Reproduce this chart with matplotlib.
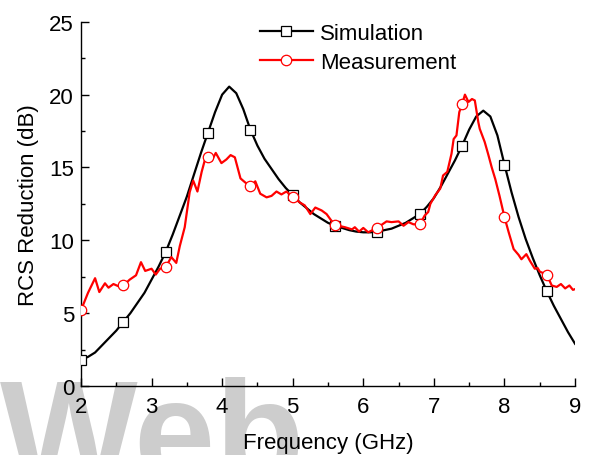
import numpy as np
import matplotlib
matplotlib.use("Agg")
import matplotlib.pyplot as plt
from matplotlib.ticker import MultipleLocator

# -----------------------------
# Data
# -----------------------------
sim_freq = [2.0, 2.1, 2.2, 2.3, 2.4, 2.5, 2.6, 2.7, 2.8, 2.9,
            3.0, 3.1, 3.2, 3.3, 3.4, 3.5, 3.6, 3.7, 3.8, 3.9,
            4.0, 4.1, 4.2, 4.3, 4.4, 4.5, 4.6, 4.7, 4.8, 4.9,
            5.0, 5.1, 5.2, 5.3, 5.4, 5.5, 5.6, 5.7, 5.8, 5.9,
            6.0, 6.1, 6.2, 6.3, 6.4, 6.5, 6.6, 6.7, 6.8, 6.9,
            7.0, 7.1, 7.2, 7.3, 7.4, 7.5, 7.6, 7.7, 7.8, 7.9,
            8.0, 8.1, 8.2, 8.3, 8.4, 8.5, 8.6, 8.7, 8.8, 8.9, 9.0]
sim_rcs = [1.8, 2.0, 2.3, 2.8, 3.3, 3.8, 4.4, 5.0, 5.7, 6.4,
           7.3, 8.2, 9.2, 10.4, 11.7, 13.0, 14.5, 16.0, 17.4, 18.8,
           20.0, 20.55, 20.1, 19.0, 17.6, 16.5, 15.6, 14.9, 14.2, 13.6,
           13.1, 12.6, 12.2, 11.8, 11.5, 11.2, 11.0, 10.85, 10.7, 10.6,
           10.55, 10.55, 10.6, 10.7, 10.8, 11.0, 11.2, 11.5, 11.8, 12.3,
           12.9, 13.7, 14.6, 15.5, 16.5, 17.6, 18.5, 18.9, 18.5, 17.2,
           15.2, 13.3, 11.6, 10.1, 8.8, 7.6, 6.5, 5.5, 4.6, 3.7, 2.9]

meas_freq = [2.00, 2.10, 2.20, 2.26, 2.34, 2.39, 2.46, 2.53, 2.60, 2.69,
             2.78, 2.85, 2.91, 3.00, 3.06, 3.12, 3.20, 3.28, 3.35, 3.40,
             3.47, 3.54, 3.59, 3.65, 3.71, 3.76, 3.80, 3.85, 3.91, 3.99,
             4.06, 4.12, 4.18, 4.26, 4.32, 4.40, 4.47, 4.54, 4.63, 4.70,
             4.77, 4.84, 4.91, 5.00, 5.10, 5.17, 5.25, 5.32, 5.41, 5.48,
             5.54, 5.60, 5.74, 5.84, 5.88, 5.94, 6.00, 6.07, 6.13, 6.20,
             6.27, 6.33, 6.40, 6.50, 6.57, 6.64, 6.71, 6.80, 6.87, 6.92,
             6.95, 7.02, 7.09, 7.13, 7.19, 7.25, 7.28, 7.32, 7.36, 7.40,
             7.44, 7.49, 7.54, 7.58, 7.63, 7.65, 7.72, 7.77, 7.82, 7.87,
             7.93, 8.00, 8.06, 8.13, 8.20, 8.24, 8.31, 8.36, 8.43, 8.47,
             8.50, 8.60, 8.67, 8.74, 8.80, 8.86, 8.92, 8.97, 9.00]
meas_rcs = [5.2, 6.4, 7.4, 6.45, 7.05, 6.75, 7.0, 6.85, 6.9, 7.3,
            7.6, 8.5, 7.9, 8.05, 7.65, 8.05, 8.15, 8.85, 8.45, 9.6,
            10.9, 13.3, 14.1, 13.35, 14.7, 15.6, 15.7, 15.45, 16.0, 15.3,
            15.55, 15.85, 15.7, 14.25, 14.0, 13.7, 14.05, 13.2, 12.95, 13.05,
            13.35, 13.15, 13.35, 13.0, 12.6, 12.4, 11.8, 12.25, 12.05, 11.8,
            11.4, 11.05, 10.9, 10.75, 10.9, 10.6, 10.85, 10.55, 10.7, 10.85,
            11.1, 11.3, 11.25, 11.3, 11.0, 11.25, 11.1, 11.1, 11.7, 11.95,
            12.5, 13.1, 13.55, 14.45, 14.7, 15.95, 16.95, 17.2, 18.8, 19.35,
            20.0, 19.5, 19.7, 19.6, 18.1, 17.65, 16.75, 15.9, 15.0, 14.2,
            13.05, 11.6, 10.55, 9.4, 9.0, 8.7, 9.05, 8.6, 8.05, 8.1,
            7.85, 7.65, 6.9, 6.8, 7.0, 6.7, 6.9, 6.6, 6.65]

# frequencies that carry a symbol on both curves
marker_freq = [2.0, 2.6, 3.2, 3.8, 4.4, 5.0, 5.6, 6.2, 6.8, 7.4, 8.0, 8.6]

x_ticks = [2, 3, 4, 5, 6, 7, 8, 9]
y_ticks = [0, 5, 10, 15, 20, 25]


def marker_mask(freq):
    f = np.asarray(freq)
    return np.isclose(f[:, None], np.asarray(marker_freq)[None, :]).any(axis=1)


plt.rcParams["font.family"] = ["Liberation Sans", "DejaVu Sans"]
plt.rcParams["font.size"] = 16

fig = plt.figure(figsize=(5.91, 4.56), dpi=100)
ax = fig.add_axes([0.137, 0.1513, 0.836, 0.7987])
ax.set_facecolor("none")

# watermark behind everything
fig.text(0.0, -0.058, "Web", fontsize=105, fontweight="bold", color="#cdcdcd",
         ha="left", va="baseline", zorder=-5)

ax.plot(sim_freq, sim_rcs, color="black", lw=1.6, marker="s",
        markevery=list(np.where(marker_mask(sim_freq))[0]),
        markersize=6.5, markerfacecolor="white", markeredgecolor="black",
        markeredgewidth=0.9, label="Simulation", zorder=3)
ax.plot(meas_freq, meas_rcs, color="red", lw=1.6, marker="o",
        markevery=list(np.where(marker_mask(meas_freq))[0]),
        markersize=7.5, markerfacecolor="white", markeredgecolor="red",
        markeredgewidth=0.9, label="Measurement", zorder=4)

ax.set_xlim(2, 9)
ax.set_ylim(0, 25)
ax.set_xticks(x_ticks)
ax.set_yticks(y_ticks)
ax.xaxis.set_minor_locator(MultipleLocator(0.5))
ax.yaxis.set_minor_locator(MultipleLocator(2.5))
ax.tick_params(which="major", direction="in", length=6, width=1, labelsize=16)
ax.tick_params(axis="x", which="major", pad=7)
ax.tick_params(axis="y", which="major", pad=5)
ax.tick_params(which="minor", direction="in", length=3, width=1)

for side in ("top", "right"):
    ax.spines[side].set_visible(False)
for side in ("left", "bottom"):
    ax.spines[side].set_linewidth(1.0)

ax.set_xlabel("Frequency (GHz)", fontsize=16, labelpad=11)
ax.set_ylabel("RCS Reduction (dB)", fontsize=16, labelpad=7)

ax.legend(loc="upper left", bbox_to_anchor=(0.344, 1.021), frameon=False,
          fontsize=16, handlelength=2.4, handletextpad=0.3,
          labelspacing=0.35, borderaxespad=0)

fig.savefig("out.png", dpi=100)
